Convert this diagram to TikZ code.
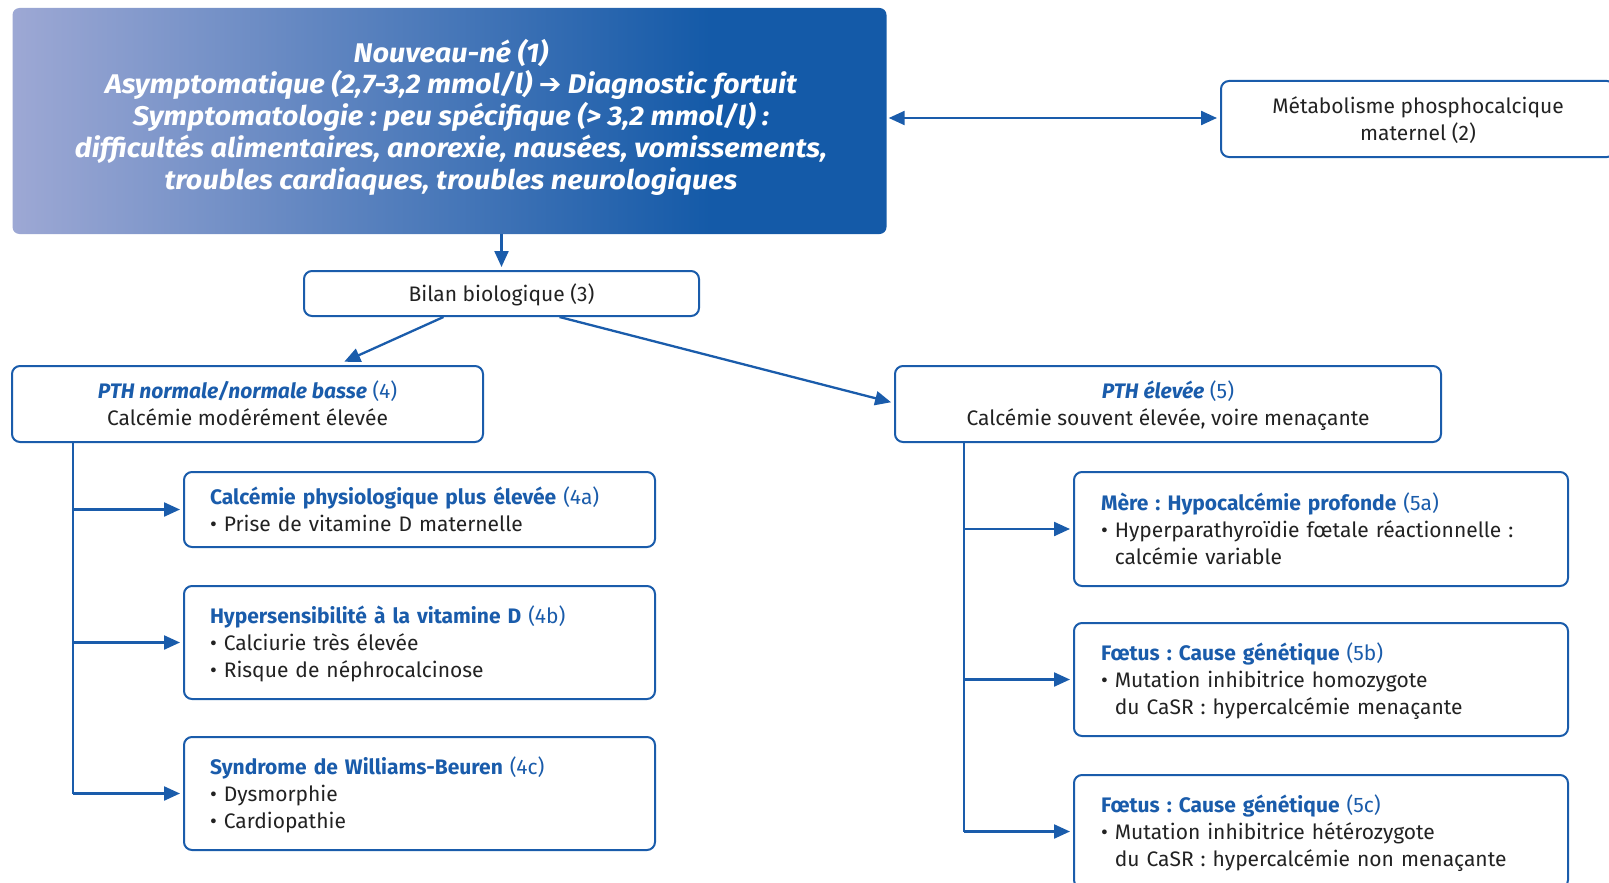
\documentclass[tikz,border=0pt]{standalone}
\usepackage{fontspec}
\setmainfont{Fira Sans}
\newfontfamily\topfont{Fira Sans}[FakeStretch=1.07]
\newfontfamily\dejavu{DejaVu Sans}
\usetikzlibrary{arrows.meta,calc}
\definecolor{bl}{HTML}{1A5CAB}
\definecolor{txt}{HTML}{222222}
\definecolor{gl}{HTML}{9DA8D4}
\definecolor{gr}{HTML}{145AA8}
\pgfdeclarehorizontalshading{topgrad}{100bp}{color(0bp)=(gl); color(25bp)=(gl); color(65bp)=(gr); color(100bp)=(gr)}
\newcommand{\hd}[2]{\textcolor{bl}{\textbf{#1} #2}}
\newcommand{\bul}{\textbullet~}
\newcommand{\cont}{\hphantom{\textbullet~}}
\newcommand{\st}{\rule[-0.3\baselineskip]{0pt}{\baselineskip}}
\newcommand{\sttop}{\rule[-0.3\baselineskip]{0pt}{\dimexpr\baselineskip+6pt\relax}}
\frenchspacing
\begin{document}
\begin{tikzpicture}[x=1pt,y=-1pt,
  box/.style={draw=bl, line width=2pt, rounded corners=8pt, fill=white, text=txt,
    font=\fontsize{21}{27}\selectfont, inner sep=0pt},
  cbox/.style={box, align=center},
  lbox/.style={box, align=left, text width=#1},
  arr/.style={draw=bl, line width=2.3pt, -{Triangle[length=16pt,width=14pt]}, shorten >=3pt},
  darr/.style={draw=bl, line width=2.3pt, {Triangle[length=16pt,width=14pt]}-{Triangle[length=16pt,width=14pt]}, shorten >=3pt, shorten <=2pt},
  line/.style={draw=bl, line width=2.3pt}
]
\useasboundingbox (0,0) rectangle (1609,883);

% top box
\node[shade, shading=topgrad, rounded corners=7pt, minimum width=874pt, minimum height=226pt, inner sep=0pt] (top) at (449.5,121) {};
\node[text=white, align=center, font=\topfont\fontsize{27}{31.8}\selectfont\bfseries\itshape] (toptext) at (451,117)
 {Nouveau-né (1)\\
  Asymptomatique (2,7-3,2 mmol/l) {\dejavu\bfseries ➔} Diagnostic fortuit\\
  Symptomatologie : peu spécifique (> 3,2 mmol/l) :\\
  difficultés alimentaires, anorexie, nausées, vomissements,\\
  troubles cardiaques, troubles neurologiques};

\node[cbox, minimum width=394pt, minimum height=76pt] (mat) at (1418,119)
 {\sttop Métabolisme phosphocalcique\\maternel (2)\st};

\node[cbox, minimum width=395pt, minimum height=45pt] (bilan) at (501.5,293.5) {\sttop Bilan biologique (3)};

\node[cbox, minimum width=471pt, minimum height=76pt] (b4) at (247.5,404)
 {\sttop\textcolor{bl}{\textbf{\itshape PTH normale/normale basse} (4)}\\Calcémie modérément élevée\st};

\node[cbox, minimum width=546pt, minimum height=76pt] (b5) at (1168,404)
 {\sttop\textcolor{bl}{\textbf{\itshape PTH élevée} (5)}\\Calcémie souvent élevée, voire menaçante\st};

\node[lbox=419pt, minimum width=471pt, minimum height=75pt] (b4a) at (419.5,509.5)
 {\sttop\hd{Calcémie physiologique plus élevée}{(4a)}\\\bul Prise de vitamine D maternelle\st};
\node[lbox=419pt, minimum width=471pt, minimum height=113pt] (b4b) at (419.5,642.5)
 {\sttop\hd{Hypersensibilité à la vitamine D}{(4b)}\\\bul Calciurie très élevée\\\bul Risque de néphrocalcinose\st};
\node[lbox=419pt, minimum width=471pt, minimum height=113pt] (b4c) at (419.5,793.5)
 {\sttop\hd{Syndrome de Williams-Beuren}{(4c)}\\\bul Dysmorphie\\\bul Cardiopathie\st};

\node[lbox=440pt, minimum width=494pt, minimum height=114pt] (b5a) at (1321,529)
 {\sttop\hd{Mère : Hypocalcémie profonde}{(5a)}\\\bul Hyperparathyroïdie fœtale réactionnelle :\\\cont calcémie variable\st};
\node[lbox=440pt, minimum width=494pt, minimum height=113pt] (b5b) at (1321,679.5)
 {\sttop\hd{Fœtus : Cause génétique}{(5b)}\\\bul Mutation inhibitrice homozygote\\\cont du CaSR : hypercalcémie menaçante\st};
\node[lbox=440pt, minimum width=494pt, minimum height=113pt] (b5c) at (1321,831.5)
 {\sttop\hd{Fœtus : Cause génétique}{(5c)}\\\bul Mutation inhibitrice hétérozygote\\\cont du CaSR : hypercalcémie non menaçante\st};

% connectors
\coordinate (t4) at (73,442);
\coordinate (t5) at (964,442);
\draw[arr] (top.south -| bilan.north) -- (bilan.north);
\draw[darr] (top.east |- 0,118) -- (mat.west |- 0,118);
\draw[arr] ($(bilan.south)+(-58,0)$) -- ($(b4.north)+(94,-2)$);
\draw[arr] ($(bilan.south)+(58,0)$) -- ($(b5.west)+(0,-1)$);
\draw[line] (t4) -- (t4 |- b4c.west);
\draw[arr] (t4 |- b4a.west) -- (b4a.west);
\draw[arr] (t4 |- b4b.west) -- (b4b.west);
\draw[arr] (t4 |- b4c.west) -- (b4c.west);
\draw[line] (t5) -- (t5 |- b5c.west);
\draw[arr] (t5 |- b5a.west) -- (b5a.west);
\draw[arr] (t5 |- b5b.west) -- (b5b.west);
\draw[arr] (t5 |- b5c.west) -- (b5c.west);
\end{tikzpicture}
\end{document}
